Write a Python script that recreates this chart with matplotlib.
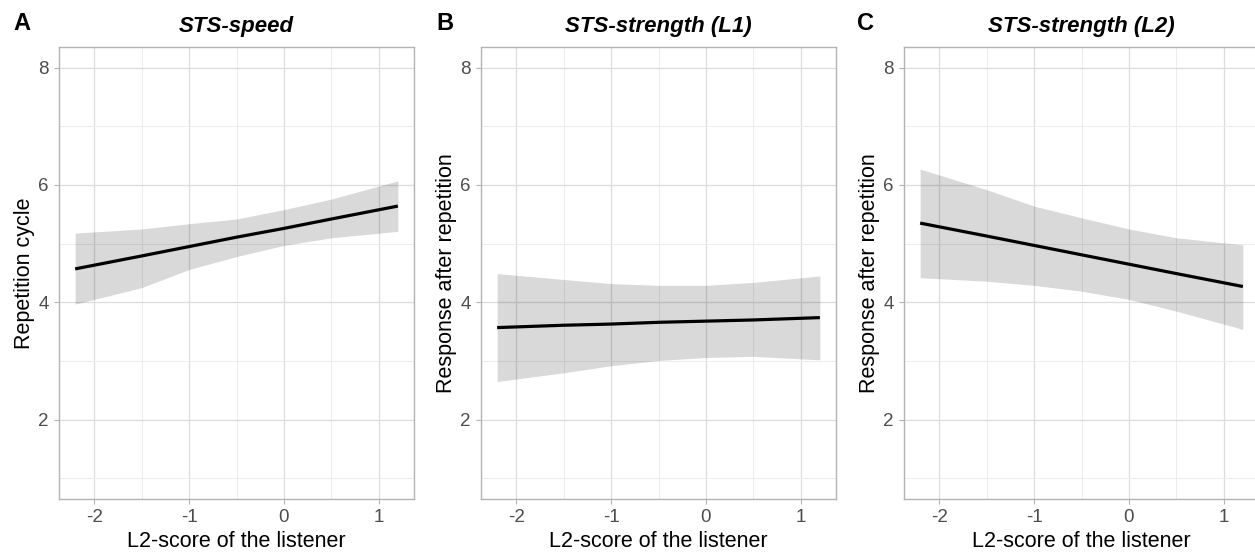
import matplotlib
matplotlib.use("Agg")
import matplotlib.pyplot as plt
import numpy as np

plt.rcParams['font.family'] = ['Liberation Sans', 'DejaVu Sans']

# Data
l2_score = [-2.2, -1.5, -1.0, -0.5, 0.0, 0.5, 1.2]

speed_fit = [4.57, 4.79, 4.95, 5.11, 5.26, 5.42, 5.64]
speed_upper = [5.18, 5.25, 5.34, 5.42, 5.58, 5.76, 6.07]
speed_lower = [3.97, 4.25, 4.56, 4.78, 4.97, 5.10, 5.21]

l1_fit = [3.57, 3.61, 3.63, 3.66, 3.68, 3.70, 3.74]
l1_upper = [4.49, 4.39, 4.32, 4.29, 4.29, 4.34, 4.45]
l1_lower = [2.65, 2.80, 2.92, 3.01, 3.06, 3.08, 3.02]

l2_fit = [5.35, 5.13, 4.97, 4.81, 4.65, 4.49, 4.27]
l2_upper = [6.27, 5.92, 5.64, 5.44, 5.25, 5.10, 4.98]
l2_lower = [4.42, 4.36, 4.29, 4.19, 4.05, 3.85, 3.54]

panel_letters = ["A", "B", "C"]
titles = ["STS-speed", "STS-strength (L1)", "STS-strength (L2)"]
ylabels = ["Repetition cycle", "Response after repetition", "Response after repetition"]
xlabel = "L2-score of the listener"
xticks = [-2, -1, 0, 1]
yticks = [2, 4, 6, 8]

fits = [speed_fit, l1_fit, l2_fit]
uppers = [speed_upper, l1_upper, l2_upper]
lowers = [speed_lower, l1_lower, l2_lower]

W, H = 1255, 554
fig = plt.figure(figsize=(W / 100, H / 100), dpi=100)

lefts = [59, 481, 904]
ax_w = 355
top, bottom = 47, 499
letter_x = [22, 445, 866]

for i in range(3):
    ax = fig.add_axes([lefts[i] / W, (H - bottom) / H, ax_w / W, (bottom - top) / H])
    ax.fill_between(l2_score, lowers[i], uppers[i], color='black', alpha=0.15, linewidth=0, zorder=3)
    ax.plot(l2_score, fits[i], color='black', lw=2.3, zorder=4, solid_capstyle='butt')
    ax.set_xlim(-2.37, 1.37)
    ax.set_ylim(0.65, 8.35)
    ax.set_xticks(xticks)
    ax.set_xticklabels([str(t) for t in xticks])
    ax.set_yticks(yticks)
    ax.set_xticks([-1.5, -0.5, 0.5], minor=True)
    ax.set_yticks([1, 3, 5, 7], minor=True)
    ax.grid(True, which='major', color='#DCDCDC', lw=0.9, zorder=0)
    ax.grid(True, which='minor', color='#ECECEC', lw=0.7, zorder=0)
    ax.set_axisbelow(True)
    for s in ax.spines.values():
        s.set_color('#B3B3B3')
        s.set_linewidth(1.0)
    ax.tick_params(which='major', length=3.5, width=0.8, color='#B3B3B3',
                   labelcolor='#4D4D4D', labelsize=13.5, pad=4)
    ax.tick_params(which='minor', length=0)
    ax.set_xlabel(xlabel, fontsize=15.5, color='black', labelpad=3)
    ax.set_ylabel(ylabels[i], fontsize=15.5, color='black', labelpad=2)
    ax.set_title(titles[i], fontsize=16, fontweight='bold', fontstyle='italic', pad=11)
    fig.text(letter_x[i] / W, 1 - 23 / H, panel_letters[i], fontsize=17,
             fontweight='bold', ha='center', va='center')

fig.savefig("out.png", dpi=100)
